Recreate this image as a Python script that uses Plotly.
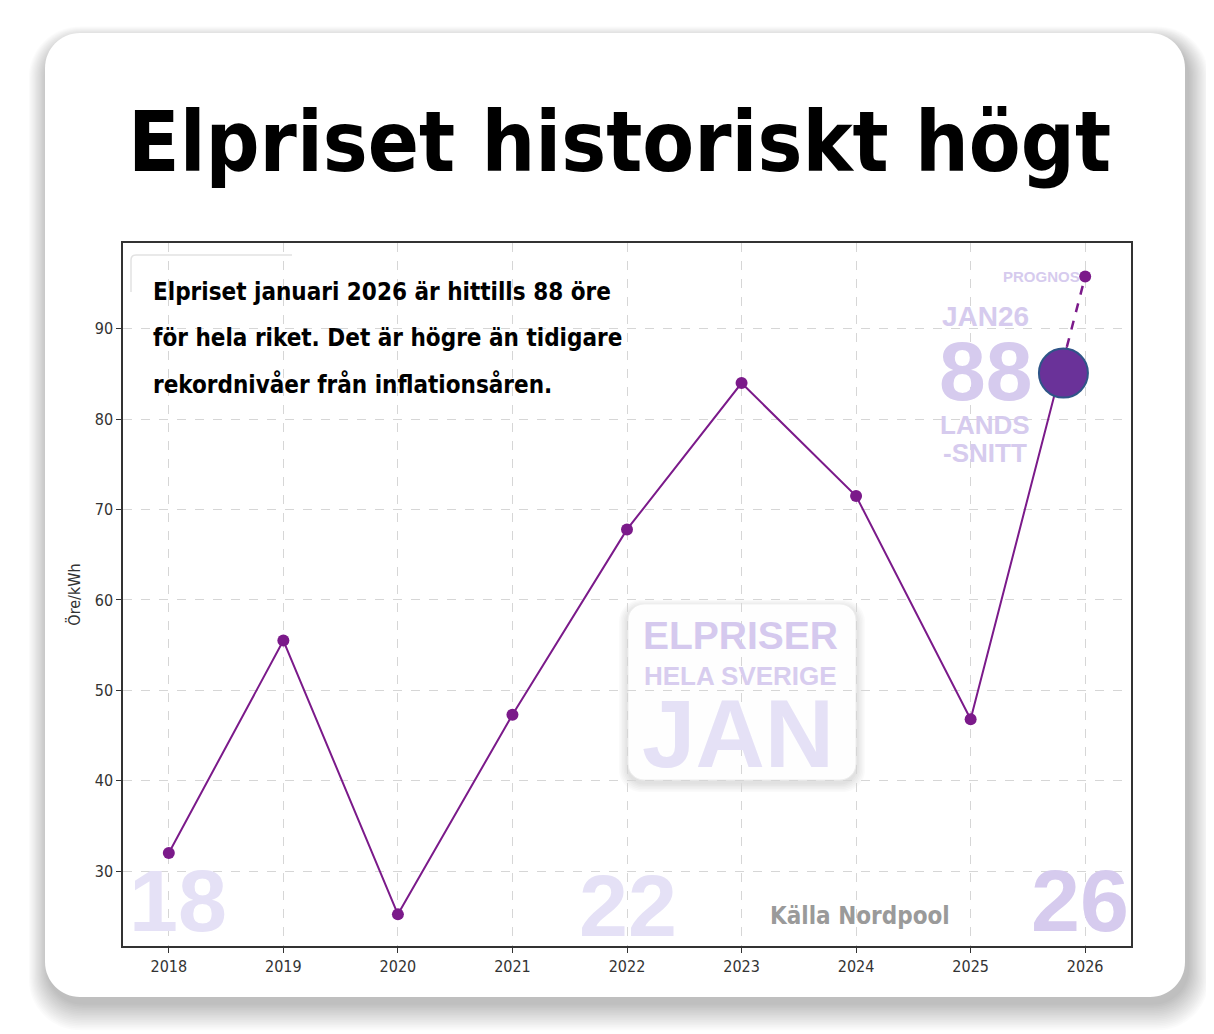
import plotly.graph_objects as go

# January average electricity price, whole of Sweden (öre/kWh)
years = [2018, 2019, 2020, 2021, 2022, 2023, 2024, 2025]
prices = [32.0, 55.5, 25.2, 47.3, 67.8, 84.0, 71.5, 46.8]

# January 2026 so far, and the forecast for the full month
jan26_x = 2025.84
jan26_price = 88
forecast_year = 2026
forecast_price = 95.8

# the big highlight dot
dot_x = 2025.81
dot_y = 85.1

tick_years = [2018, 2019, 2020, 2021, 2022, 2023, 2024, 2025, 2026]
tick_prices = [30, 40, 50, 60, 70, 80, 90]

title = "Elpriset historiskt högt"
subtitle_lines = [
    "Elpriset januari 2026 är hittills 88 öre",
    "för hela riket. Det är högre än tidigare",
    "rekordnivåer från inflationsåren.",
]

# the page puts the figure 8px in from the top-left corner
OFF = 8
W, H = 1214 - OFF, 1034 - OFF
PL, PR, PT, PB = 123, 1131, 243, 946   # plot box in page pixels
PW, PH = PR - PL, PB - PT

PURPLE = "#7b1a8a"
LAV = "#d6cbee"
LAV_LIGHT = "#e5e1f6"
COND = "Liberation Sans Narrow, DejaVu Sans Condensed, Arial Narrow, sans-serif"
ARIAL = "Liberation Sans, Arial, sans-serif"


def fx(p):
    return (p - PL) / PW


def fy(p):
    return (PB - p) / PH


def rr_path(x0, y0, x1, y1, r):
    # rounded rectangle in page pixels -> paper path
    k = 0.5523 * r
    segs = [
        ("M", [(x0 + r, y0)]),
        ("L", [(x1 - r, y0)]),
        ("C", [(x1 - r + k, y0), (x1, y0 + r - k), (x1, y0 + r)]),
        ("L", [(x1, y1 - r)]),
        ("C", [(x1, y1 - r + k), (x1 - r + k, y1), (x1 - r, y1)]),
        ("L", [(x0 + r, y1)]),
        ("C", [(x0 + r - k, y1), (x0, y1 - r + k), (x0, y1 - r)]),
        ("L", [(x0, y0 + r)]),
        ("C", [(x0, y0 + r - k), (x0 + r - k, y0), (x0 + r, y0)]),
    ]
    out = []
    for cmd, pts in segs:
        out.append(cmd + " " + " ".join(f"{fx(x):.5f},{fy(y):.5f}" for x, y in pts))
    return " ".join(out) + " Z"


fig = go.Figure()

# solid history line, ending at the January 2026 value so far
fig.add_trace(go.Scatter(
    x=years + [jan26_x], y=prices + [jan26_price],
    mode="lines", line=dict(color=PURPLE, width=2),
    hoverinfo="skip", showlegend=False,
))
fig.add_trace(go.Scatter(
    x=years, y=prices, mode="markers",
    marker=dict(color=PURPLE, size=12),
    showlegend=False,
))
# forecast, dashed
fig.add_trace(go.Scatter(
    x=[jan26_x, forecast_year], y=[jan26_price, forecast_price],
    mode="lines", line=dict(color=PURPLE, width=2.5, dash="dash"),
    hoverinfo="skip", showlegend=False,
))
fig.add_trace(go.Scatter(
    x=[forecast_year], y=[forecast_price], mode="markers",
    marker=dict(color=PURPLE, size=12), showlegend=False,
))
fig.add_trace(go.Scatter(
    x=[dot_x], y=[dot_y], mode="markers",
    marker=dict(color="#6a3299", size=49, line=dict(color="#2f5588", width=2)),
    showlegend=False,
))

# card with soft shadow
for i in range(16, 0, -1):
    fig.add_shape(type="path", xref="paper", yref="paper", layer="below",
                  path=rr_path(45 - i * 1.2 + 3, 33 - i * 0.9 + 8, 1185 + i * 1.3 + 3, 997 + i * 1.7 + 6, 35 + i),
                  fillcolor="rgba(0,0,0,0.014)", line=dict(width=0))
fig.add_shape(type="path", xref="paper", yref="paper", layer="below",
              path=rr_path(45, 33, 1185, 997, 35),
              fillcolor="white", line=dict(width=0))

# faint legend frame behind the text
fig.add_shape(type="path", xref="paper", yref="paper", layer="below",
              path=f"M {fx(131):.5f},{fy(292):.5f} L {fx(131):.5f},{fy(260):.5f} "
                   f"Q {fx(131):.5f},{fy(255):.5f} {fx(136):.5f},{fy(255):.5f} L {fx(292):.5f},{fy(255):.5f}",
              line=dict(color="#e2e2e2", width=1.5))

# "JAN" box with shadow
for i in range(6, 0, -1):
    fig.add_shape(type="path", xref="paper", yref="paper", layer="between",
                  path=rr_path(628 - i * 1.5, 604 - i * 1.2 + 3, 856 + i * 1.5, 780 + i * 1.5 + 3, 16 + i),
                  fillcolor="rgba(0,0,0,0.02)", line=dict(width=0))
fig.add_shape(type="path", xref="paper", yref="paper", layer="between",
              path=rr_path(628, 604, 856, 780, 16),
              fillcolor="rgba(255,255,255,0.96)", line=dict(color="#eeeeee", width=1))


def label(text, x, y, size, color, family=ARIAL, anchor="center"):
    fig.add_annotation(text=text, x=fx(x), y=fy(y), xref="paper", yref="paper",
                       xanchor=anchor, yanchor="middle", showarrow=False,
                       font=dict(size=size, color=color, family=family))


label(f"<b>{title}</b>", 619, 142, 84, "black", COND)
for n, line in enumerate(subtitle_lines):
    label(f"<b>{line}</b>", 151, 292 + n * 46, 24, "black", COND, anchor="left")

label("<b>18</b>", 178, 900, 88, LAV_LIGHT)
label("<b>22</b>", 628, 905, 88, LAV_LIGHT)
label("<b>26</b>", 1080, 900, 88, LAV)
label("<b>Källa Nordpool</b>", 860, 916, 24, "#9a9a9a", COND)

label("<b>PROGNOS</b>", 1041, 276, 15, LAV)
label("<b>JAN26</b>", 985, 316, 28, LAV)
label("<b>88</b>", 985, 371, 84, LAV)
label("<b>LANDS</b>", 985, 425, 26, LAV)
label("<b>-SNITT</b>", 985, 453, 26, LAV)

label("<b>ELPRISER</b>", 740, 635, 39, "#d5c9ee")
label("<b>HELA SVERIGE</b>", 740, 676, 26, "#d8cdef")
label("<b>JAN</b>", 738, 733, 96, LAV_LIGHT)

axis_font = dict(family="DejaVu Sans Condensed, DejaVu Sans, sans-serif", size=16, color="#333333")
fig.update_xaxes(
    range=[2017.6, 2026.4], tickvals=tick_years, ticktext=[str(y) for y in tick_years],
    showgrid=True, gridcolor="#d6d6d6", griddash="dash", gridwidth=1,
    showline=True, linecolor="#333333", linewidth=1.5, mirror=True,
    ticks="outside", ticklen=5, tickcolor="#333333", tickfont=axis_font, zeroline=False,
)
fig.update_yaxes(
    range=[21.7, 99.5], tickvals=tick_prices,
    showgrid=True, gridcolor="#d6d6d6", griddash="dash", gridwidth=1,
    showline=True, linecolor="#333333", linewidth=1.5, mirror=True,
    ticks="outside", ticklen=5, tickcolor="#333333", tickfont=axis_font, zeroline=False,
    title=dict(text="Öre/kWh", font=axis_font, standoff=10),
)
fig.update_layout(
    width=W, height=H,
    margin=dict(l=PL - OFF, r=W - (PR - OFF), t=PT - OFF, b=H - (PB - OFF)),
    paper_bgcolor="white", plot_bgcolor="rgba(0,0,0,0)",
    showlegend=False,
)

fig.write_html("out.html")
